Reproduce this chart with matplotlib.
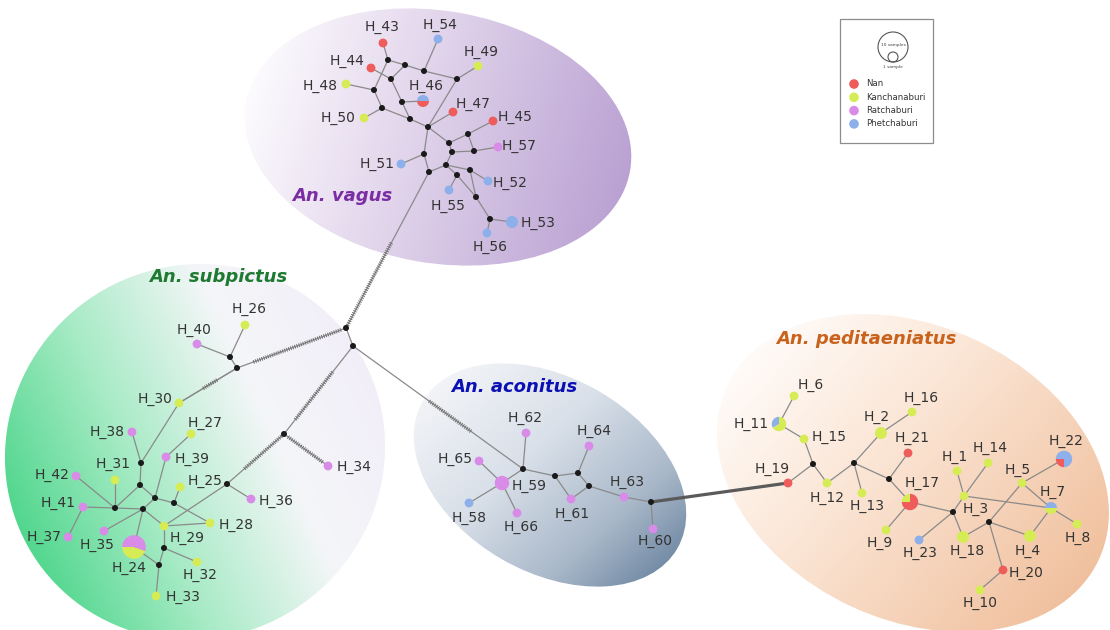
import numpy as np
import matplotlib
matplotlib.use("Agg")
import matplotlib.pyplot as plt
from matplotlib.patches import Ellipse, Circle, Wedge, Rectangle
from matplotlib.collections import LineCollection
from matplotlib.colors import to_rgb

plt.rcParams['font.family'] = ['DejaVu Sans']

# ---------------------------------------------------------------- data
populations = ["Nan", "Kanchanaburi", "Ratchaburi", "Phetchaburi"]
pop_colors = ["#ee5c5c", "#d6ec55", "#d98be8", "#8dafea"]

hap_names = ["H_%d" % i for i in range(1, 67)]

# sample counts of each haplotype per population (H_1 ... H_66)
n_nan = [0, 0, 0, 0, 0, 0, 0, 0, 0, 0,
         0, 0, 0, 0, 0, 0, 3, 0, 1, 1,
         1, 1, 0, 0, 0, 0, 0, 0, 0, 0,
         0, 0, 0, 0, 0, 0, 0, 0, 0, 0,
         0, 0, 1, 1, 1, 1, 1, 0, 0, 0,
         0, 0, 0, 0, 0, 0, 0, 0, 0, 0,
         0, 0, 0, 0, 0, 0]
n_kan = [1, 2, 1, 2, 1, 1, 1, 1, 1, 1,
         2, 1, 1, 1, 1, 1, 1, 2, 0, 0,
         0, 0, 0, 4, 1, 1, 1, 1, 1, 1,
         1, 1, 1, 0, 0, 0, 0, 0, 0, 0,
         0, 0, 0, 0, 0, 0, 0, 1, 1, 1,
         0, 0, 0, 0, 0, 0, 0, 0, 0, 0,
         0, 0, 0, 0, 0, 0]
n_rat = [0, 0, 0, 0, 0, 0, 0, 0, 0, 0,
         0, 0, 0, 0, 0, 0, 0, 0, 0, 0,
         0, 0, 0, 5, 0, 0, 0, 0, 0, 0,
         0, 0, 0, 1, 1, 1, 1, 1, 1, 1,
         1, 1, 0, 0, 0, 0, 0, 0, 0, 0,
         0, 0, 0, 0, 0, 0, 1, 0, 3, 1,
         1, 1, 1, 1, 1, 1]
n_phe = [0, 0, 0, 0, 0, 0, 1, 0, 0, 0,
         1, 0, 0, 0, 0, 0, 0, 0, 0, 0,
         0, 3, 1, 0, 0, 0, 0, 0, 0, 0,
         0, 0, 0, 0, 0, 0, 0, 0, 0, 0,
         0, 0, 0, 0, 0, 1, 0, 0, 0, 0,
         1, 1, 2, 1, 1, 1, 0, 1, 0, 0,
         0, 0, 0, 0, 0, 0]

species = ["An. vagus", "An. subpictus", "An. aconitus", "An. peditaeniatus"]

# ---------------------------------------------------------------- layout (pixel space)
HAP_POS = {
    "H_1": (957, 471), "H_2": (881, 433), "H_3": (964, 496), "H_4": (1030, 536), "H_5": (1022, 483),
    "H_6": (794, 396), "H_7": (1051, 508), "H_8": (1077, 524), "H_9": (886, 530), "H_10": (980, 590),
    "H_11": (779, 424), "H_12": (827, 483), "H_13": (862, 493), "H_14": (988, 463), "H_15": (804, 439),
    "H_16": (912, 412), "H_17": (910, 502), "H_18": (963, 537), "H_19": (788, 483), "H_20": (1003, 570),
    "H_21": (908, 453), "H_22": (1064, 459), "H_23": (919, 540), "H_24": (134, 547), "H_25": (180, 487),
    "H_26": (245, 325), "H_27": (191, 434), "H_28": (210, 523), "H_29": (164, 526), "H_30": (179, 403),
    "H_31": (115, 480), "H_32": (197, 562), "H_33": (156, 596), "H_34": (328, 466), "H_35": (104, 531),
    "H_36": (251, 499), "H_37": (68, 537), "H_38": (132, 432), "H_39": (166, 457), "H_40": (197, 344),
    "H_41": (83, 507), "H_42": (76, 476), "H_43": (383, 43), "H_44": (371, 68), "H_45": (493, 121),
    "H_46": (423, 101), "H_47": (453, 112), "H_48": (346, 84), "H_49": (478, 66), "H_50": (364, 118),
    "H_51": (401, 164), "H_52": (488, 181), "H_53": (512, 222), "H_54": (438, 39), "H_55": (449, 190),
    "H_56": (487, 233), "H_57": (498, 147), "H_58": (469, 503), "H_59": (502, 483), "H_60": (653, 529),
    "H_61": (571, 499), "H_62": (526, 433), "H_63": (624, 497), "H_64": (589, 446), "H_65": (479, 461),
    "H_66": (517, 513),
}

LABEL_POS = {
    "H_1": (955, 457), "H_2": (877, 417), "H_3": (976, 509), "H_4": (1028, 551), "H_5": (1018, 470),
    "H_6": (811, 385), "H_7": (1053, 492), "H_8": (1078, 538), "H_9": (880, 543), "H_10": (980, 603),
    "H_11": (751, 424), "H_12": (827, 498), "H_13": (867, 506), "H_14": (990, 448), "H_15": (829, 437),
    "H_16": (921, 398), "H_17": (922, 483), "H_18": (967, 551), "H_19": (772, 469), "H_20": (1026, 573),
    "H_21": (912, 438), "H_22": (1066, 441), "H_23": (920, 553), "H_24": (129, 568), "H_25": (205, 481),
    "H_26": (249, 309), "H_27": (205, 423), "H_28": (236, 525), "H_29": (187, 538), "H_30": (155, 399),
    "H_31": (113, 464), "H_32": (200, 575), "H_33": (183, 597), "H_34": (354, 467), "H_35": (97, 545),
    "H_36": (276, 501), "H_37": (44, 537), "H_38": (107, 432), "H_39": (192, 459), "H_40": (194, 330),
    "H_41": (58, 503), "H_42": (52, 475), "H_43": (382, 27), "H_44": (347, 61), "H_45": (515, 117),
    "H_46": (426, 86), "H_47": (473, 104), "H_48": (320, 86), "H_49": (481, 52), "H_50": (338, 118),
    "H_51": (377, 164), "H_52": (510, 183), "H_53": (538, 223), "H_54": (440, 25), "H_55": (448, 206),
    "H_56": (490, 247), "H_57": (519, 146), "H_58": (469, 518), "H_59": (529, 486), "H_60": (655, 541),
    "H_61": (572, 514), "H_62": (525, 418), "H_63": (627, 482), "H_64": (594, 431), "H_65": (455, 459),
    "H_66": (521, 527),
}

# screen angle (deg) where the first wedge of a mixed haplotype starts
PIE_START = {"H_11": 210}

MEDIAN_POS = {
    # An. vagus
    "v1": (388, 60), "v2": (405, 65), "v3": (424, 71), "v4": (457, 79), "v5": (391, 79),
    "v6": (374, 90), "v7": (402, 102), "v8": (382, 108), "v9": (410, 119), "v10": (428, 127),
    "v11": (468, 134), "v12": (449, 143), "v13": (452, 152), "v14": (474, 151), "v15": (424, 154),
    "v16": (446, 165), "v17": (470, 170), "v18": (429, 172), "v19": (457, 175), "v20": (476, 197),
    "v21": (490, 219),
    # An. subpictus + root
    "s1": (346, 328), "s2": (353, 346), "s3": (230, 357), "s4": (237, 368), "s5": (141, 463),
    "s6": (227, 484), "s7": (140, 485), "s8": (155, 498), "s9": (174, 503), "s10": (115, 508),
    "s11": (143, 509), "s12": (164, 548), "s13": (159, 565), "s14": (284, 434),
    # An. aconitus
    "a1": (523, 469), "a2": (555, 476), "a3": (578, 473), "a4": (589, 486), "a5": (651, 502),
    # An. peditaeniatus
    "p1": (813, 464), "p2": (854, 463), "p3": (889, 479), "p4": (953, 512), "p5": (989, 522),
}

EDGES = [
    # An. vagus
    ("H_43", "v1"), ("v1", "v2"), ("v2", "v3"), ("v3", "v4"), ("v3", "H_54"), ("v4", "H_49"),
    ("v4", "v10"), ("v1", "v6"), ("H_44", "v5"), ("v5", "v2"), ("v5", "v7"), ("v7", "v9"),
    ("v7", "H_46"), ("v6", "H_48"), ("v6", "v8"), ("v8", "H_50"), ("v8", "v9"), ("v9", "v10"),
    ("v10", "H_47"), ("v10", "v12"), ("v12", "v11"), ("v11", "H_45"), ("v11", "v14"),
    ("v14", "H_57"), ("v12", "v13"), ("v13", "v14"), ("v10", "v15"), ("v15", "H_51"),
    ("v15", "v18"), ("v18", "v16"), ("v16", "v13"), ("v16", "v17"), ("v17", "H_52"),
    ("v16", "v19"), ("v19", "H_55"), ("v19", "v20"), ("v17", "v20"), ("v20", "v21"),
    ("v21", "H_53"), ("v21", "H_56"),
    # An. subpictus
    ("s1", "s2"), ("s3", "H_40"), ("s3", "H_26"), ("s4", "s3"), ("s4", "H_30"), ("H_30", "s5"),
    ("s5", "H_38"), ("s5", "s7"), ("s10", "s7"), ("s10", "H_42"), ("s10", "H_41"),
    ("s10", "H_31"), ("s10", "s11"), ("H_41", "H_37"), ("s7", "s8"), ("s8", "H_39"),
    ("H_39", "H_27"), ("s8", "s9"), ("s9", "H_25"), ("s9", "H_28"), ("s11", "s8"),
    ("s11", "H_35"), ("s11", "H_24"), ("s11", "H_29"), ("H_29", "H_28"), ("H_29", "s6"),
    ("H_29", "s12"), ("s12", "H_32"), ("s12", "s13"), ("s13", "H_33"), ("s13", "H_24"),
    ("s6", "H_36"),
    # An. aconitus
    ("a1", "H_62"), ("a1", "H_59"), ("a1", "a2"), ("a2", "a3"), ("a3", "H_64"), ("a3", "a4"),
    ("a4", "H_61"), ("a2", "H_61"), ("a4", "H_63"), ("H_63", "a5"), ("a5", "H_60"),
    ("H_59", "H_65"), ("H_59", "H_58"), ("H_59", "H_66"),
    # An. peditaeniatus
    ("H_19", "p1"), ("p1", "H_15"), ("H_15", "H_11"), ("H_11", "H_6"), ("p1", "H_12"),
    ("H_12", "p2"), ("p2", "H_2"), ("H_2", "H_16"), ("p2", "H_13"), ("p2", "p3"),
    ("p3", "H_21"), ("p3", "H_17"), ("H_17", "H_9"), ("H_17", "p4"), ("p4", "H_23"),
    ("p4", "H_3"), ("H_3", "H_14"), ("H_3", "H_1"), ("H_3", "H_7"), ("p4", "H_18"),
    ("H_18", "p5"), ("p5", "H_4"), ("p5", "H_20"), ("p5", "H_5"), ("H_5", "H_22"),
    ("H_5", "H_7"), ("H_7", "H_8"), ("H_7", "H_4"), ("H_20", "H_10"),
]

# long branches carrying many mutation ticks: (from, to, start fraction, end fraction)
HATCHED_EDGES = [
    ("s1", "v18", 0.02, 0.55),
    ("s1", "s4", 0.05, 0.85),
    ("s2", "s14", 0.3, 0.85),
    ("s14", "H_34", 0.1, 0.9),
    ("s14", "s6", 0.05, 0.7),
    ("s2", "a1", 0.45, 0.7),
    ("s4", "H_30", 0.35, 0.6),
]
THICK_EDGES = [("a5", "H_19")]

SPECIES_LABELS = {
    "An. vagus": ((342, 196), "#7b2ea3"),
    "An. subpictus": ((218, 277), "#1d7a30"),
    "An. aconitus": ((514, 387), "#0b10b5"),
    "An. peditaeniatus": ((866, 339), "#c9621c"),
}

# ---------------------------------------------------------------- figure
W, H = 1110, 630
fig = plt.figure(figsize=(W / 100, H / 100), dpi=100)
ax = fig.add_axes([0, 0, 1, 1])
ax.set_xlim(0, W)
ax.set_ylim(H, 0)
ax.axis("off")


def gradient_ellipse(center, width, height, angle, direction, stops, colors):
    cx, cy = center
    ell = Ellipse(center, width, height, angle=angle, facecolor="none", edgecolor="none")
    ax.add_patch(ell)
    R = max(width, height) / 2 + 4
    n = 400
    xs = np.linspace(cx - R, cx + R, n)
    ys = np.linspace(cy - R, cy + R, n)
    X, Y = np.meshgrid(xs, ys)
    d = np.asarray(direction, float)
    d /= np.hypot(*d)
    t = ((X - cx) * d[0] + (Y - cy) * d[1]) / R
    t = np.clip((t + 1) / 2, 0, 1)
    rgb = np.zeros((n, n, 3))
    cols = np.array([to_rgb(c) for c in colors])
    for k in range(3):
        rgb[..., k] = np.interp(t, stops, cols[:, k])
    im = ax.imshow(rgb, extent=(cx - R, cx + R, cy - R, cy + R), origin="lower",
                   interpolation="bilinear", zorder=0)
    im.set_clip_path(ell)


gradient_ellipse((195, 452), 384, 372, -35, (1, -0.45),
                 [0, 0.35, 0.7, 1], ["#4fd68c", "#a8ebc6", "#f4f6f8", "#f2eef8"])
gradient_ellipse((438, 137), 390, 252, 10, (1, 0.3),
                 [0, 0.35, 1], ["#fdfcfe", "#e7dcef", "#b9a0d2"])
gradient_ellipse((550, 475), 294, 194, 30, (1, 1.1),
                 [0, 0.4, 0.75, 1], ["#f4f5f8", "#d9e0e9", "#a9b8c9", "#6f88a3"])
gradient_ellipse((913, 473), 410, 294, 25, (1, 0.9),
                 [0, 0.4, 1], ["#fffcfa", "#fbe6d6", "#f0bf9c"])

ax.set_xlim(0, W)
ax.set_ylim(H, 0)
ax.set_aspect("auto")

# node lookup
node_pos = dict(HAP_POS)
node_pos.update(MEDIAN_POS)

# plain edges
segs = [[node_pos[a], node_pos[b]] for a, b in EDGES]
ax.add_collection(LineCollection(segs, colors="#8a8a8a", linewidths=0.9, zorder=2))

# long branches with mutation ticks
ticks = []
for a, b, f0, f1 in HATCHED_EDGES:
    p = np.array(node_pos[a], float)
    q = np.array(node_pos[b], float)
    ax.plot([p[0], q[0]], [p[1], q[1]], color="#8a8a8a", lw=0.9, zorder=2)
    d = q - p
    L = np.hypot(*d)
    u = d / L
    nv = np.array([-u[1], u[0]])
    for s in np.arange(f0 * L, f1 * L, 2.2):
        c = p + u * s
        ticks.append([c - nv * 1.9, c + nv * 1.9])
ax.add_collection(LineCollection(ticks, colors="#707070", linewidths=0.7, zorder=2))

for a, b in THICK_EDGES:
    p, q = node_pos[a], node_pos[b]
    ax.plot([p[0], q[0]], [p[1], q[1]], color="#5a5a5a", lw=2.3,
            solid_capstyle="round", zorder=2)

# median vectors
for name, (x, y) in MEDIAN_POS.items():
    ax.add_patch(Circle((x, y), 3.0, facecolor="#1a1a1a", edgecolor="none", zorder=4))


def radius(n):
    return 4.4 * n ** 0.45


# haplotype circles / pies
for i, name in enumerate(hap_names):
    counts = [n_nan[i], n_kan[i], n_rat[i], n_phe[i]]
    total = sum(counts)
    x, y = HAP_POS[name]
    r = radius(total)
    parts = [(c, col) for c, col in zip(counts, pop_colors) if c > 0]
    if len(parts) == 1:
        ax.add_patch(Circle((x, y), r, facecolor=parts[0][1], edgecolor="none", zorder=5))
    else:
        s = PIE_START.get(name, 180)
        for c, col in parts:
            span = 360.0 * c / total
            # y axis is inverted: screen angle s maps to data angle -s
            ax.add_patch(Wedge((x, y), r, -(s + span), -s, facecolor=col,
                               edgecolor="none", zorder=5))
            s += span
    lx, ly = LABEL_POS[name]
    ax.text(lx, ly, name, fontsize=10, color="#333333", ha="center", va="center", zorder=6)

# species names
for text, ((x, y), col) in SPECIES_LABELS.items():
    ax.text(x, y, text, fontsize=13, fontweight="bold", fontstyle="italic", color=col,
            ha="center", va="center", zorder=6)

# legend
ax.add_patch(Rectangle((840, 19), 93, 124, facecolor="white", edgecolor="#8c8c8c",
                       lw=0.9, zorder=7))
ax.add_patch(Circle((893, 47), 15, facecolor="none", edgecolor="#555555", lw=0.8, zorder=8))
ax.add_patch(Circle((893, 57), 5, facecolor="none", edgecolor="#555555", lw=0.8, zorder=8))
ax.text(893, 45, "10 samples", fontsize=3.2, color="#444444", ha="center", va="center", zorder=8)
ax.text(893, 67, "1 sample", fontsize=3.2, color="#444444", ha="center", va="center", zorder=8)
for k, (pop, col) in enumerate(zip(populations, pop_colors)):
    yy = 84 + 13.3 * k
    ax.add_patch(Circle((854, yy), 4.8, facecolor=col, edgecolor="none", zorder=8))
    ax.text(866, yy, pop, fontsize=6.2, color="#333333", ha="left", va="center", zorder=8)

fig.savefig("out.png", dpi=100)
